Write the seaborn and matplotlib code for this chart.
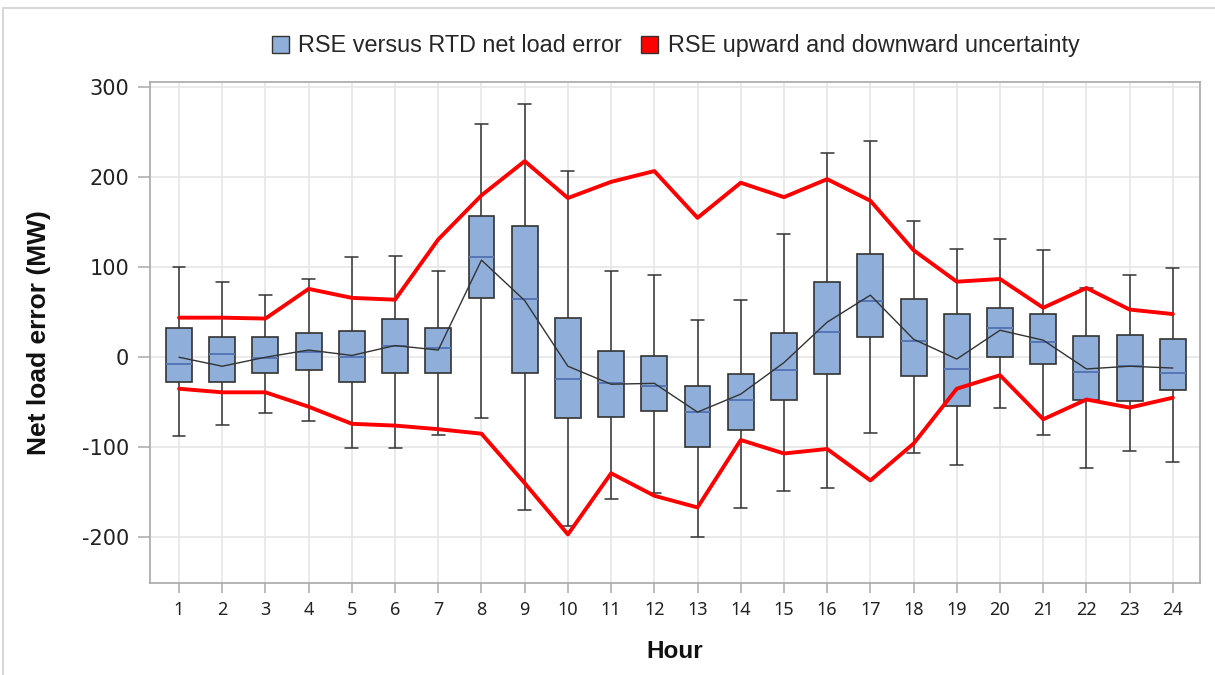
import numpy as np
import pandas as pd
import matplotlib
matplotlib.use("Agg")
import matplotlib.pyplot as plt
from matplotlib.patches import Patch, Rectangle
import seaborn as sns

# Box statistics per hour (MW)
hours = list(range(1, 25))
whisker_low = [-88, -75, -62, -71, -101, -101, -87, -68, -170, -188, -158, -151,
               -200, -168, -149, -145, -84, -107, -120, -56, -87, -123, -104, -117]
q1 = [-28, -27, -17, -14, -28, -17, -17, 66, -17, -68, -66, -60,
      -100, -81, -47, -19, 22, -21, -54, 0, -7, -48, -49, -36]
median = [-7, 4, -1, 6, 0, 13, 10, 111, 65, -24, -29, -32,
          -61, -48, -14, 28, 62, 18, -13, 32, 17, -16, -10, -17]
q3 = [33, 23, 22, 27, 29, 43, 33, 157, 146, 44, 7, 1,
      -32, -19, 27, 84, 115, 65, 48, 55, 48, 24, 25, 20]
whisker_high = [100, 84, 69, 87, 111, 113, 96, 259, 281, 207, 96, 91,
                41, 64, 137, 227, 240, 152, 120, 131, 119, 77, 91, 99]
mean_error = [0, -10, 0, 8, 2, 13, 8, 108, 63, -10, -30, -29,
              -61, -41, -6, 39, 69, 20, -2, 30, 19, -13, -10, -12]

# RSE upward / downward uncertainty
rse_up = [44, 44, 43, 76, 66, 64, 131, 180, 218, 177, 195, 207,
          155, 194, 178, 198, 174, 119, 84, 87, 55, 77, 53, 48]
rse_down = [-35, -39, -39, -55, -74, -76, -80, -85, -140, -197, -129, -154,
            -167, -92, -107, -102, -137, -96, -35, -20, -69, -47, -56, -45]

# five summary values per hour -> quartiles land exactly on q1/median/q3
rows = []
for i, h in enumerate(hours):
    for v in (whisker_low[i], q1[i], median[i], q3[i], whisker_high[i]):
        rows.append({"Hour": h, "error": v})
df = pd.DataFrame(rows)

sns.set_theme(style="whitegrid")
plt.rcParams["font.family"] = ["Liberation Sans", "DejaVu Sans"]

fig = plt.figure(figsize=(12.15, 6.75), dpi=100)
ax = fig.add_axes([0.1235, 0.1363, 0.8642, 0.7422])

box_color = "#8FAFDA"
sns.boxplot(data=df, x="Hour", y="error", native_scale=True, whis=(0, 100),
            width=0.6, color=box_color, linecolor="#333333", linewidth=1.2,
            showfliers=False, saturation=1,
            medianprops={"color": "#5575B5", "linewidth": 1.4},
            whiskerprops={"color": "#333333", "linewidth": 1.1},
            capprops={"color": "#333333", "linewidth": 1.1},
            ax=ax, zorder=2)

sns.lineplot(x=hours, y=mean_error, color="#333333", linewidth=1.0, ax=ax, zorder=3)
sns.lineplot(x=hours, y=rse_up, color="#FF0000", linewidth=2.8, ax=ax, zorder=4)
sns.lineplot(x=hours, y=rse_down, color="#FF0000", linewidth=2.8, ax=ax, zorder=4)

ax.set_xlim(0.33, 24.63)
ax.set_ylim(-251, 306)
ax.set_xticks(hours)
ax.set_xticklabels([str(h) for h in hours], family="Noto Sans", fontsize=13, color="#222222")
ax.set_yticks([-200, -100, 0, 100, 200, 300])
ax.set_yticklabels(["-200", "-100", "0", "100", "200", "300"],
                   family="DejaVu Sans", fontsize=15, color="#222222")
ax.tick_params(axis="y", length=9, width=1.2, color="#b0b0b0", pad=6, left=True)
ax.tick_params(axis="x", length=7, width=1.2, color="#b0b0b0", pad=6, bottom=True)

ax.grid(True, color="#e6e6e6", linewidth=1.2)
ax.set_axisbelow(True)
for sp in ax.spines.values():
    sp.set_color("#a8a8a8")
    sp.set_linewidth(1.2)

ax.set_xlabel("Hour", fontsize=17.5, fontweight="bold", labelpad=15, color="#111111")
ax.set_ylabel("Net load error (MW)", fontsize=19, fontweight="bold", labelpad=22,
              color="#111111")

handles = [Patch(facecolor=box_color, edgecolor="#333333", linewidth=1),
           Patch(facecolor="#FF0000", edgecolor="#333333", linewidth=1)]
labels = ["RSE versus RTD net load error", "RSE upward and downward uncertainty"]
fig.legend(handles, labels, loc="center", bbox_to_anchor=(0.556, 0.932), ncol=2,
           frameon=False, fontsize=16.8, handlelength=0.75, handleheight=0.75,
           handletextpad=0.4, columnspacing=0.8)

# light frame of the original screenshot
fig.patches.append(Rectangle((3 / 1215, -0.01), 1.02, 1 - 8 / 675 + 0.01,
                             transform=fig.transFigure, fill=False,
                             edgecolor="#d0d0d0", linewidth=1.2))

fig.savefig("out.png", dpi=100)
